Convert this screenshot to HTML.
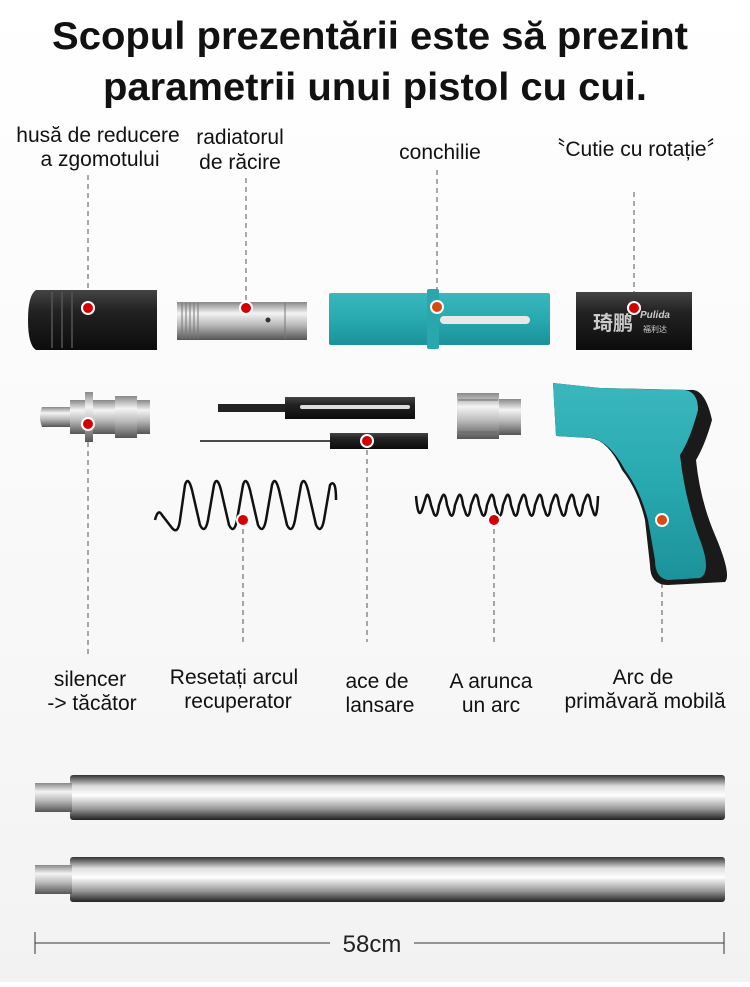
<!DOCTYPE html>
<html><head><meta charset="utf-8"><style>
html,body{margin:0;padding:0;background:#fff}
body{width:750px;height:982px;overflow:hidden;font-family:"Liberation Sans","Noto Sans CJK SC",sans-serif}
</style></head><body>
<svg width="750" height="982" viewBox="0 0 750 982" xmlns="http://www.w3.org/2000/svg">
<defs>
<linearGradient id="bg" x1="0" y1="0" x2="0" y2="1"><stop offset="0" stop-color="#fff"/><stop offset="0.7" stop-color="#f7f7f7"/><stop offset="1" stop-color="#f2f2f2"/></linearGradient>
<linearGradient id="blk" x1="0" y1="0" x2="0" y2="1"><stop offset="0" stop-color="#444"/><stop offset="0.35" stop-color="#222"/><stop offset="1" stop-color="#0c0c0c"/></linearGradient>
<linearGradient id="sil" x1="0" y1="0" x2="0" y2="1"><stop offset="0" stop-color="#888"/><stop offset="0.3" stop-color="#f4f4f4"/><stop offset="0.6" stop-color="#bbb"/><stop offset="1" stop-color="#555"/></linearGradient>
<linearGradient id="rod" x1="0" y1="0" x2="0" y2="1"><stop offset="0" stop-color="#333"/><stop offset="0.25" stop-color="#ddd"/><stop offset="0.45" stop-color="#fff"/><stop offset="0.75" stop-color="#999"/><stop offset="1" stop-color="#222"/></linearGradient>
<linearGradient id="teal" x1="0" y1="0" x2="0" y2="1"><stop offset="0" stop-color="#3ab7bd"/><stop offset="0.5" stop-color="#28a9b0"/><stop offset="1" stop-color="#1c9299"/></linearGradient>
</defs>
<rect width="750" height="982" fill="url(#bg)"/>
<g font-weight="bold" font-size="39" text-anchor="middle" fill="#111">
<text x="370" y="49" textLength="636" lengthAdjust="spacingAndGlyphs">Scopul prezentării este să prezint</text>
<text x="375" y="100" textLength="544" lengthAdjust="spacingAndGlyphs">parametrii unui pistol cu cui.</text>
</g>
<g font-size="21" fill="#111" text-anchor="middle">
<text x="98" y="142">husă de reducere</text><text x="100" y="166">a zgomotului</text>
<text x="240" y="144">radiatorul</text><text x="240" y="169">de răcire</text>
<text x="440" y="159">conchilie</text>
<text x="636" y="156">〝Cutie cu rotație〞</text>
<text x="90" y="686">silencer</text><text x="92" y="710">-&gt; tăcător</text>
<text x="234" y="684">Resetați arcul</text><text x="238" y="708">recuperator</text>
<text x="377" y="688">ace de</text><text x="380" y="712">lansare</text>
<text x="491" y="688">A arunca</text><text x="491" y="712">un arc</text>
<text x="643" y="684">Arc de</text><text x="645" y="708">primăvară mobilă</text>
</g>
<g stroke="#555" stroke-width="1" stroke-dasharray="5,4" fill="none">
<line x1="88" y1="175" x2="88" y2="308"/>
<line x1="246" y1="178" x2="246" y2="308"/>
<line x1="437" y1="170" x2="437" y2="307"/>
<line x1="634" y1="192" x2="634" y2="308"/>
<line x1="88" y1="424" x2="88" y2="655"/>
<line x1="367" y1="441" x2="367" y2="642"/>
<line x1="243" y1="520" x2="243" y2="642"/>
<line x1="494" y1="520" x2="494" y2="642"/>
<line x1="662" y1="520" x2="662" y2="642"/>
</g>
<path d="M36,290 H157 V350 H36 Q28,345 28,320 Q28,295 36,290Z" fill="url(#blk)"/>
<g stroke="#555" stroke-width="1.5"><line x1="52" y1="292" x2="52" y2="348"/><line x1="62" y1="292" x2="62" y2="348"/><line x1="72" y1="292" x2="72" y2="348"/></g>
<rect x="177" y="302" width="130" height="38" fill="url(#sil)"/>
<g stroke="#777" stroke-width="1"><line x1="182" y1="303" x2="182" y2="339"/><line x1="186" y1="303" x2="186" y2="339"/><line x1="190" y1="303" x2="190" y2="339"/><line x1="194" y1="303" x2="194" y2="339"/><line x1="198" y1="303" x2="198" y2="339"/><line x1="285" y1="303" x2="285" y2="339"/></g>
<circle cx="268" cy="320" r="2.5" fill="#333"/>
<rect x="329" y="293" width="221" height="52" rx="2" fill="url(#teal)"/>
<rect x="427" y="289" width="12" height="60" rx="2" fill="#2aa6ad"/>
<rect x="440" y="316" width="90" height="8" rx="4" fill="#e8e8e8"/>
<rect x="576" y="292" width="116" height="58" fill="url(#blk)"/>
<text x="613" y="330" font-size="20" font-weight="bold" fill="#ccc" text-anchor="middle">琦鹏</text>
<text x="655" y="318" font-size="10" font-style="italic" font-weight="bold" fill="#ccc" text-anchor="middle">Pulida</text>
<text x="655" y="332" font-size="8" fill="#ccc" text-anchor="middle">福利达</text>
<path d="M42,407 H70 V427 H42 Q38,417 42,407Z" fill="url(#sil)"/>
<rect x="70" y="400" width="80" height="34" fill="url(#sil)"/>
<rect x="85" y="392" width="8" height="50" fill="url(#sil)"/>
<rect x="115" y="396" width="22" height="42" fill="url(#sil)"/>
<rect x="218" y="404" width="70" height="8" fill="#222"/>
<rect x="285" y="397" width="130" height="22" fill="url(#blk)"/>
<rect x="300" y="405" width="110" height="4" rx="2" fill="#ddd"/>
<line x1="200" y1="441" x2="330" y2="441" stroke="#111" stroke-width="1.5"/>
<rect x="330" y="433" width="98" height="16" fill="url(#blk)"/>
<rect x="457" y="393" width="42" height="46" fill="url(#sil)"/>
<rect x="499" y="399" width="22" height="36" fill="url(#sil)"/>
<g stroke="#666"><line x1="458" y1="400" x2="498" y2="400"/><line x1="458" y1="432" x2="498" y2="432"/></g>
<path d="M553,383 L600,388 L690,390 Q705,388 712,420 Q705,445 696,460 Q700,500 715,535 Q732,575 725,582 L668,585 Q650,585 650,565 L645,520 Q638,490 622,470 Q608,440 590,438 L556,436 Z" fill="#1a1a1a"/>
<path d="M553,383 L600,388 L685,390 Q698,392 698,410 Q690,440 680,455 Q685,500 700,540 Q712,572 700,578 L668,580 Q655,578 655,560 L648,520 Q640,490 625,470 Q610,442 592,438 L556,436 Z" fill="url(#teal)"/>
<path fill="none" stroke="#111" stroke-width="2.5" d="M155,520 Q158,508 162,515 L172,528 Q178,535 180,520 L185,485 Q188,475 192,490 L200,525 Q205,535 208,520 L214,485 Q217,475 221,490 L229,525 Q234,535 237,520 L243,485 Q246,475 250,490 L258,525 Q263,535 266,520 L272,485 Q275,475 279,490 L287,525 Q292,535 295,520 L301,485 Q304,475 308,490 L316,525 Q321,535 324,520 L330,485 Q336,478 336,500"/>
<path fill="none" stroke="#111" stroke-width="2.5" d="M416,496 Q418,520 422,510 L426,497 Q428,490 431,505 L434,514 Q437,520 439,505 L442,497 Q445,490 447,505 L450,514 Q453,520 455,505 L458,497 Q461,490 463,505 L466,514 Q469,520 471,505 L474,497 Q477,490 479,505 L482,514 Q485,520 487,505 L490,497 Q493,490 495,505 L498,514 Q501,520 503,505 L506,497 Q509,490 511,505 L514,514 Q517,520 519,505 L522,497 Q525,490 527,505 L530,514 Q533,520 535,505 L538,497 Q541,490 543,505 L546,514 Q549,520 551,505 L554,497 Q557,490 559,505 L562,514 Q565,520 567,505 L570,497 Q573,490 575,505 L578,514 Q581,520 583,505 L586,497 Q589,490 591,505 L594,514 Q597,520 598,496"/>
<g fill="#d40000" stroke="#fff" stroke-width="2">
<circle cx="88" cy="308" r="6"/><circle cx="246" cy="308" r="6"/><circle cx="437" cy="307" r="6" fill="#d84a10"/><circle cx="634" cy="308" r="6"/>
<circle cx="88" cy="424" r="6"/><circle cx="367" cy="441" r="6"/><circle cx="243" cy="520" r="6"/><circle cx="494" cy="520" r="6"/><circle cx="662" cy="520" r="6" fill="#d84a10"/>
</g>
<rect x="70" y="775" width="655" height="45" rx="3" fill="url(#rod)"/>
<rect x="35" y="783" width="37" height="29" fill="url(#sil)"/>
<rect x="70" y="857" width="655" height="45" rx="3" fill="url(#rod)"/>
<rect x="35" y="865" width="37" height="29" fill="url(#sil)"/>
<g stroke="#333" stroke-width="1"><line x1="35" y1="943" x2="330" y2="943"/><line x1="414" y1="943" x2="724" y2="943"/><line x1="35" y1="932" x2="35" y2="954"/><line x1="724" y1="932" x2="724" y2="954"/></g>
<text x="372" y="952" font-size="24" text-anchor="middle" fill="#222">58cm</text>
</svg>
</body></html>
